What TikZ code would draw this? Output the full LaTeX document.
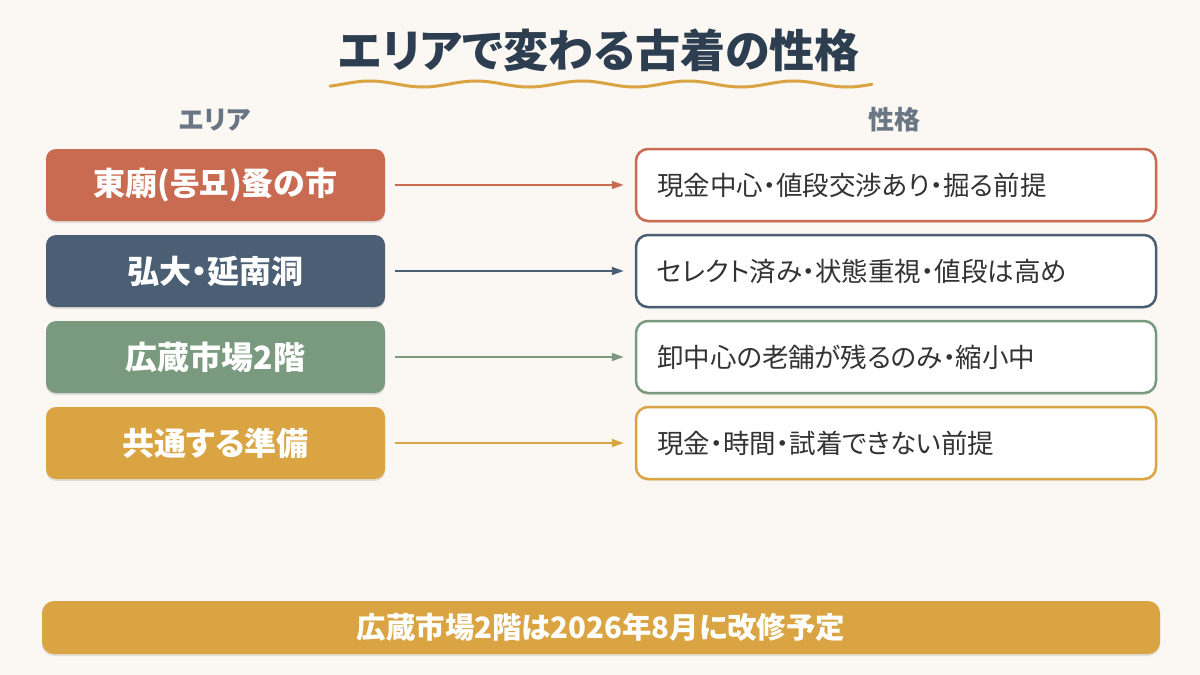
\documentclass[tikz,border=0pt]{standalone}
\usepackage{fontspec}
\setmainfont{Noto Sans CJK JP}[RawFeature=+palt]
\usetikzlibrary{arrows.meta,shadows}
\definecolor{bg}{HTML}{FBF7F2}
\definecolor{terra}{HTML}{C96B51}
\definecolor{slate}{HTML}{4A5E74}
\definecolor{sage}{HTML}{7A9A7F}
\definecolor{gold}{HTML}{D9A441}
\definecolor{titlecol}{HTML}{2C3E50}
\definecolor{headcol}{HTML}{6B7685}
\definecolor{txtcol}{HTML}{333333}
\tikzset{
  areabox/.style={fill=#1, rounded corners=10pt, minimum width=339pt, minimum height=72pt,
    text=white, font=\bfseries\fontsize{32}{35}\selectfont, inner sep=0pt,
    drop shadow={shadow xshift=0pt, shadow yshift=-2pt, opacity=0.10, fill=black}},
  traitbox/.style={draw=#1, line width=2.5pt, fill=white, rounded corners=12pt,
    text width=478pt, inner xsep=21pt, minimum height=72pt, align=left,
    text=txtcol, font=\fontsize{26.5}{30}\selectfont,
    drop shadow={shadow xshift=0pt, shadow yshift=-2pt, opacity=0.06, fill=black}},
  conn/.style={draw=#1, line width=1.8pt, shorten <=10pt, shorten >=11pt,
    -{Stealth[length=12pt,width=8pt,inset=0pt]}},
  header/.style={text=headcol, font=\bfseries\fontsize{26}{30}\selectfont},
}
\begin{document}
\begin{tikzpicture}[x=1pt,y=-1pt]
\fill[bg] (0,0) rectangle (1200,675);
\useasboundingbox (0,0) rectangle (1200,675);

% title
\node[text=titlecol, font=\bfseries\fontsize{45}{52}\selectfont] (title) at (599,50) {エリアで変わる古着の性格};
\draw[gold, line width=3pt, line cap=round, domain=330:872, samples=200, smooth]
  plot (\x, {84 - 3*cos((\x-370)/106*360)});

% headers
\node[header] (h1) at (215,120) {エリア};
\node[header] (h2) at (894,120) {性格};

% left boxes
\node[areabox=terra] (L1) at (215.5,185) {東廟(동묘)蚤の市};
\node[areabox=slate] (L2) at (215.5,271) {弘大・延南洞};
\node[areabox=sage]  (L3) at (215.5,357) {広蔵市場2階};
\node[areabox=gold]  (L4) at (215.5,443) {共通する準備};

% right boxes
\node[traitbox=terra] (R1) at (896,185) {現金中心・値段交渉あり・掘る前提};
\node[traitbox=slate] (R2) at (896,271) {セレクト済み・状態重視・値段は高め};
\node[traitbox=sage]  (R3) at (896,357) {卸中心の老舗が残るのみ・縮小中};
\node[traitbox=gold]  (R4) at (896,443) {現金・時間・試着できない前提};

% connectors
\draw[conn=terra] (L1) -- (R1);
\draw[conn=slate] (L2) -- (R2);
\draw[conn=sage]  (L3) -- (R3);
\draw[conn=gold]  (L4) -- (R4);

% bottom banner
\node[fill=gold, rounded corners=12pt, minimum width=1118pt, minimum height=53pt, inner sep=0pt,
  text=white, font=\bfseries\fontsize{29.4}{32}\selectfont,
  drop shadow={shadow xshift=0pt, shadow yshift=-2pt, opacity=0.10, fill=black}]
  (note) at (601,627.5) {広蔵市場2階は2026年8月に改修予定};
\end{tikzpicture}
\end{document}
